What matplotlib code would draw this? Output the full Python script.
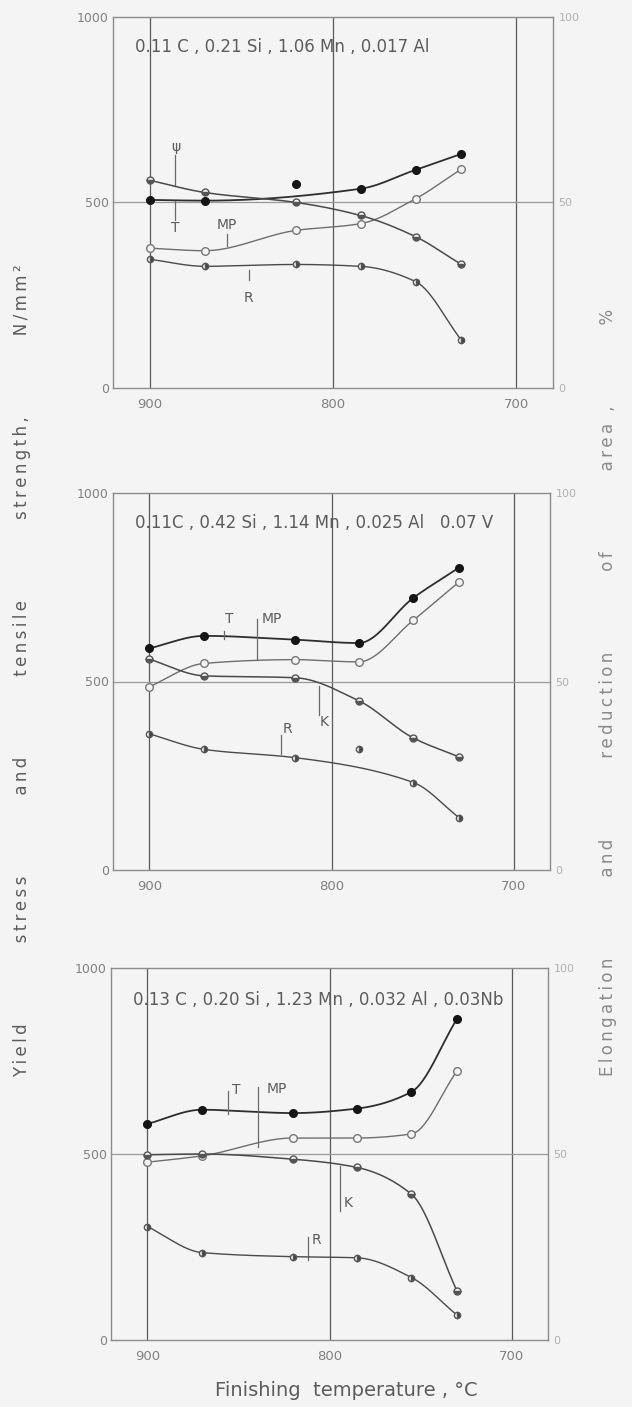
#!/usr/bin/env python3
"""
Finishing temperature vs. mechanical properties
Three steels: strength on the left axis, ductility (%) on the right axis
"""

import numpy as np
import matplotlib.pyplot as plt

# Finishing temperatures, °C (same schedule for all three steels)
temps = [900, 870, 820, 785, 755, 730]

compositions = [
    "0.11 C , 0.21 Si , 1.06 Mn , 0.017 Al",
    "0.11C , 0.42 Si , 1.14 Mn , 0.025 Al   0.07 V",
    "0.13 C , 0.20 Si , 1.23 Mn , 0.032 Al , 0.03Nb",
]

# Tensile strength T, N/mm²
tensile_1 = [507, 505, 549, 537, 588, 631]
tensile_2 = [588, 621, 611, 602, 722, 802]
tensile_3 = [581, 619, 610, 622, 667, 863]

# Yield stress MP, N/mm²
yield_1 = [377, 370, 425, 443, 510, 590]
yield_2 = [486, 548, 558, 552, 663, 764]
yield_3 = [478, 495, 543, 543, 554, 723]

# Reduction of area (psi / K), %
reduction_1 = [56.0, 52.7, 50.0, 46.5, 40.8, 33.3]
reduction_2 = [55.9, 51.5, 51.0, 44.9, 35.0, 30.0]
reduction_3 = [49.8, 50.0, 48.6, 46.4, 39.2, 13.2]

# Elongation R, %
elong_1 = [34.7, 32.8, 33.3, 32.8, 28.7, 12.9]
elong_2 = [36.1, 32.0, 29.8, 32.0, 23.2, 13.9]
elong_3 = [30.5, 23.5, 22.4, 22.1, 16.8, 6.7]

# Scattered points that the drawn curve does not pass through
tensile_1_on_curve = [True, True, False, True, True, True]
elong_2_on_curve = [True, True, True, False, True, True]

BG = '#f4f4f4'
INK = '#5c5c5c'

# Axes boxes in pixels: left, top, right, bottom
PANEL_BOXES = [(113, 17, 553, 388), (113, 493, 550, 870), (111, 968, 548, 1340)]
FIG_W, FIG_H = 632, 1407

# Curve labels: text, text x, text y, leader x, leader from, leader to (left-axis units)
LABELS = [
    [('ψ', 886, 650, 886, 628, 545), ('T', 886, 432, 886, 505, 452),
     ('MP', 858, 440, 858, 414, 384), ('R', 846, 243, 846, 318, 291)],
    [('T', 856, 665, 859, 634, 613), ('MP', 833, 667, 841, 665, 559),
     ('K', 804, 392, 807, 489, 410), ('R', 824, 374, 828, 307, 357)],
    [('T', 851, 673, 856, 669, 608), ('MP', 829, 676, 839, 680, 518),
     ('K', 790, 369, 794, 468, 347), ('R', 807, 268, 812, 277, 216)],
]
# Composition line height inside each panel (axes fraction)
TITLE_Y = [0.919, 0.92, 0.914]


def pchip(x, y, xs):
    """Monotone cubic (PCHIP) through the points, x ascending"""
    x = np.asarray(x, float)
    y = np.asarray(y, float)
    h = np.diff(x)
    d = np.diff(y) / h
    n = len(x)
    m = np.zeros(n)
    for k in range(1, n - 1):
        if d[k - 1] * d[k] > 0:
            w1 = 2 * h[k] + h[k - 1]
            w2 = h[k] + 2 * h[k - 1]
            m[k] = (w1 + w2) / (w1 / d[k - 1] + w2 / d[k])
    m[0] = d[0]
    m[-1] = d[-1]
    idx = np.clip(np.searchsorted(x, xs) - 1, 0, n - 2)
    t = (xs - x[idx]) / h[idx]
    h00 = 2 * t**3 - 3 * t**2 + 1
    h10 = t**3 - 2 * t**2 + t
    h01 = -2 * t**3 + 3 * t**2
    h11 = t**3 - t**2
    return h00 * y[idx] + h10 * h[idx] * m[idx] + h01 * y[idx + 1] + h11 * h[idx] * m[idx + 1]


def draw_series(ax, values, on_curve, line_kw, marker_kw):
    """Smooth curve through the on-curve points plus the measured markers"""
    x = np.array(temps, float)
    y = np.array(values, float)
    keep = np.ones(len(x), bool) if on_curve is None else np.array(on_curve)
    order = np.argsort(x[keep])
    xc, yc = x[keep][order], y[keep][order]
    xs = np.linspace(xc[0], xc[-1], 200)
    ax.plot(xs, pchip(xc, yc, xs), **line_kw)
    ax.plot(x, y, linestyle='none', **marker_kw)


def spaced(text):
    """Letter-spaced text using thin spaces"""
    return '\u2009'.join(text)


plt.rcParams['font.family'] = ['DejaVu Sans']

fig = plt.figure(figsize=(FIG_W / 100, FIG_H / 100), dpi=100, facecolor=BG)

panel_data = [
    (tensile_1, yield_1, reduction_1, elong_1, tensile_1_on_curve, None),
    (tensile_2, yield_2, reduction_2, elong_2, None, elong_2_on_curve),
    (tensile_3, yield_3, reduction_3, elong_3, None, None),
]

for i, (box, data) in enumerate(zip(PANEL_BOXES, panel_data)):
    left, top, right, bottom = box
    ax = fig.add_axes([left / FIG_W, 1 - bottom / FIG_H,
                       (right - left) / FIG_W, (bottom - top) / FIG_H])
    ax.set_facecolor(BG)
    ax.set_xlim(920, 680)
    ax.set_ylim(0, 1000)
    ax.set_xticks([900, 800, 700])
    ax.set_yticks([0, 500, 1000])
    ax.tick_params(length=0, labelsize=9, colors='#808080')
    ax.tick_params(axis='x', pad=7, labelsize=9.5)
    ax.tick_params(axis='y', pad=3)
    for s in ax.spines.values():
        s.set_color('#8c8c8c')
        s.set_linewidth(1.0)

    # grid: temperature lines dark, 500 line light
    for t in [900, 800, 700]:
        ax.axvline(t, color='#5a5a5a', lw=0.9, zorder=1)
    ax.axhline(500, color='#9a9a9a', lw=0.9, zorder=1)

    ax2 = ax.twinx()
    ax2.set_ylim(0, 100)
    ax2.set_yticks([0, 50, 100])
    ax2.tick_params(length=0, labelsize=8, colors='#b0b0b0', pad=4)
    for s in ax2.spines.values():
        s.set_visible(False)

    tens, yld, red, elo, tens_mask, elo_mask = data
    draw_series(ax, tens, tens_mask,
                dict(color='#2e2e2e', lw=1.3, zorder=3),
                dict(marker='o', ms=5.5, mfc='#151515', mec='#151515', zorder=4))
    draw_series(ax, yld, None,
                dict(color='#6e6e6e', lw=1.0, zorder=3),
                dict(marker='o', ms=5.5, mfc=BG, mec='#777777', mew=1.0, zorder=4))
    draw_series(ax2, red, None,
                dict(color='#4a4a4a', lw=1.1, zorder=3),
                dict(marker='o', ms=5, fillstyle='bottom', mfc='#555555',
                     mfcalt=BG, mec='#555555', mew=1.0, zorder=4))
    draw_series(ax2, elo, elo_mask,
                dict(color='#4a4a4a', lw=1.0, zorder=3),
                dict(marker='o', ms=4.5, fillstyle='right', mfc='#444444',
                     mfcalt=BG, mec='#555555', mew=1.0, zorder=4))

    ax.text(0.05, TITLE_Y[i], compositions[i], transform=ax.transAxes, fontsize=12,
            color=INK, ha='left', va='center')

    for txt, tx, ty, lx, y0, y1 in LABELS[i]:
        ax.plot([lx, lx], [y0, y1], color='#6a6a6a', lw=0.9, zorder=3)
        ax.text(tx, ty, txt, fontsize=10, color=INK, ha='center', va='center',
                zorder=5)

gap = ' ' * 9
fig.text(22 / FIG_W, 1 - 671 / FIG_H,
         spaced(gap.join(["Yield", "stress", "and", "tensile", "strength,", "N/mm²"])),
         rotation=90, ha='center', va='center', fontsize=12, color=INK)
fig.text(608 / FIG_W, 1 - 692 / FIG_H,
         spaced(gap.join(["Elongation", "and", "reduction", "of", "area ,", "%"])),
         rotation=90, ha='center', va='center', fontsize=12, color='#8a8a8a')
fig.text(346 / FIG_W, 1 - 1390 / FIG_H, "Finishing  temperature , °C",
         ha='center', va='center', fontsize=14, color=INK)

plt.savefig('out.png', dpi=100, facecolor=BG)
